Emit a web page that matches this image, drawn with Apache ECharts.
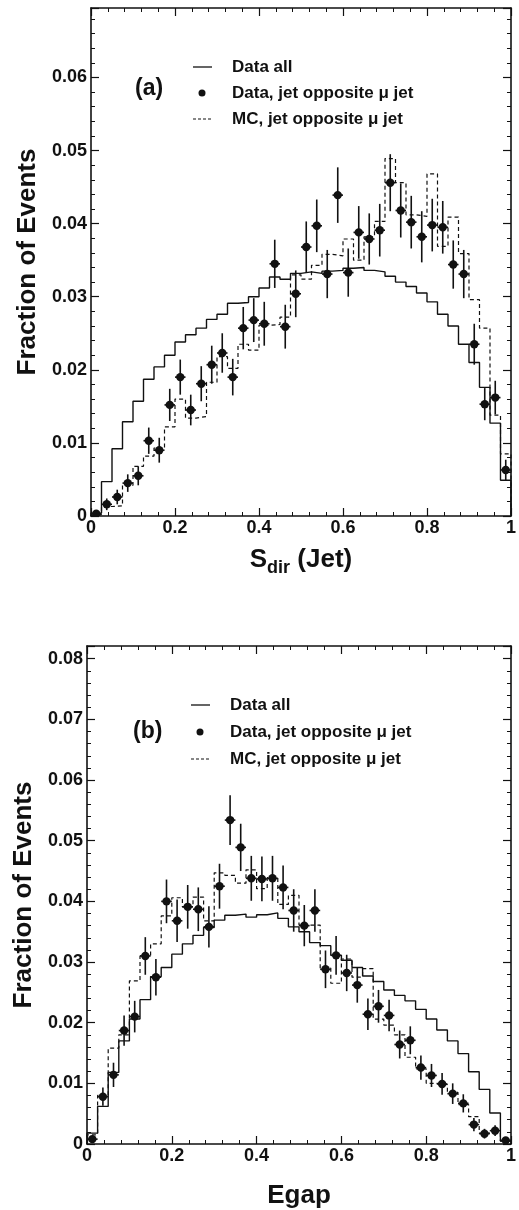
<!DOCTYPE html>
<html>
<head>
<meta charset="utf-8">
<script src="https://cdn.jsdelivr.net/npm/echarts@6/dist/echarts.min.js"></script>
<style>
html,body{margin:0;padding:0;background:#fff;}
#chart{width:519px;height:1210px;}
</style>
</head>
<body>
<div id="chart"></div>
<script>
// ---- data (40 bins of width 0.025 on [0,1]) ----
const nBins = 40;
const binWidth = 0.025;
const xTicks = [0, 0.2, 0.4, 0.6, 0.8, 1];
const yTicksTop = [0, 0.01, 0.02, 0.03, 0.04, 0.05, 0.06];
const yTicksBottom = [0, 0.01, 0.02, 0.03, 0.04, 0.05, 0.06, 0.07, 0.08];
const legendNames = ['Data all', 'Data, jet opposite \u03bc jet', 'MC, jet opposite \u03bc jet'];

// Panel (a): S_dir (Jet)
const topAll = [0.0004,0.0047,0.0092,0.0129,0.0157,0.0187,0.0204,0.0220,0.0238,0.0248,
                0.0257,0.0269,0.0276,0.0291,0.0292,0.0300,0.0312,0.0327,0.0324,0.0332,
                0.0334,0.0332,0.0335,0.0336,0.0339,0.0340,0.0336,0.0334,0.0328,0.0320,
                0.0314,0.0305,0.0293,0.0276,0.0260,0.0235,0.0210,0.0176,0.0127,0.0049];
const topMC  = [0.0002,0.0013,0.0014,0.0042,0.0068,0.0082,0.0093,0.0122,0.0160,0.0134,
                0.0136,0.0183,0.0218,0.0202,0.0235,0.0227,0.0261,0.0262,0.0272,0.0330,
                0.0324,0.0343,0.0358,0.0356,0.0379,0.0350,0.0382,0.0403,0.0489,0.0456,
                0.0412,0.0410,0.0468,0.0369,0.0409,0.0359,0.0296,0.0257,0.0138,0.0085];
const topData = [0.0003,0.0016,0.0026,0.0045,0.0055,0.0103,0.0090,0.0152,0.0190,0.0145,
                 0.0181,0.0207,0.0223,0.0190,0.0257,0.0268,0.0263,0.0345,0.0259,0.0304,
                 0.0368,0.0397,0.0331,0.0439,0.0333,0.0388,0.0379,0.0391,0.0456,0.0418,
                 0.0402,0.0382,0.0398,0.0395,0.0344,0.0331,0.0235,0.0153,0.0162,0.0063];
const topErr = [0.0003,0.0008,0.0010,0.0012,0.0013,0.0018,0.0017,0.0022,0.0024,0.0021,
                0.0024,0.0026,0.0027,0.0025,0.0029,0.0030,0.0030,0.0033,0.0030,0.0032,
                0.0035,0.0036,0.0033,0.0038,0.0033,0.0036,0.0035,0.0036,0.0039,0.0037,
                0.0036,0.0035,0.0036,0.0036,0.0033,0.0033,0.0028,0.0022,0.0023,0.0014];

// Panel (b): Egap
const botAll = [0.0018,0.0062,0.0118,0.0170,0.0206,0.0238,0.0276,0.0291,0.0313,0.0330,
                0.0344,0.0357,0.0369,0.0377,0.0379,0.0374,0.0378,0.0381,0.0372,0.0358,
                0.0350,0.0332,0.0327,0.0311,0.0303,0.0291,0.0277,0.0268,0.0254,0.0245,
                0.0236,0.0222,0.0206,0.0188,0.0170,0.0149,0.0119,0.0090,0.0051,0.0005];
const botMC  = [0.0015,0.0080,0.0158,0.0180,0.0269,0.0310,0.0330,0.0376,0.0406,0.0391,
                0.0407,0.0368,0.0447,0.0443,0.0430,0.0452,0.0421,0.0439,0.0395,0.0410,
                0.0361,0.0361,0.0290,0.0265,0.0305,0.0275,0.0289,0.0206,0.0196,0.0180,
                0.0143,0.0124,0.0100,0.0098,0.0085,0.0065,0.0045,0.0018,0.0018,0.0005];
const botData = [0.0008,0.0078,0.0114,0.0187,0.0210,0.0310,0.0275,0.0400,0.0368,0.0391,
                 0.0387,0.0358,0.0425,0.0534,0.0489,0.0438,0.0437,0.0438,0.0423,0.0385,
                 0.0360,0.0385,0.0288,0.0311,0.0282,0.0262,0.0214,0.0227,0.0212,0.0164,
                 0.0171,0.0126,0.0113,0.0099,0.0083,0.0067,0.0032,0.0017,0.0022,0.0006];
const botErr = [0.0005,0.0015,0.0020,0.0025,0.0026,0.0031,0.0030,0.0036,0.0035,0.0036,
                0.0036,0.0034,0.0037,0.0041,0.0039,0.0037,0.0037,0.0037,0.0036,0.0035,
                0.0034,0.0035,0.0031,0.0032,0.0030,0.0029,0.0026,0.0027,0.0026,0.0023,
                0.0023,0.0020,0.0019,0.0018,0.0017,0.0015,0.0011,0.0008,0.0009,0.0004];

// ---- helpers ----
const FONT = '"Liberation Sans", Arial, Helvetica, sans-serif';
const INK = '#111';

function stepData(vals) {
  const d = [[0, 0]];
  vals.forEach((v, i) => d.push([i * binWidth, v]));
  d.push([nBins * binWidth, vals[vals.length - 1]]);
  d.push([nBins * binWidth, 0]);
  return d;
}
function pointData(vals, errs) {
  return vals.map((v, i) => [(i + 0.5) * binWidth, v, errs[i]]);
}
function fmtNum(v) {
  if (Math.abs(v) < 1e-9) return '0';
  if (Math.abs(v - 1) < 1e-9) return '1';
  return String(+v.toFixed(2));
}
function xAxis(gi, pos, name, gap, nameRich) {
  return {
    type: 'value', gridIndex: gi, position: pos,
    min: xTicks[0], max: xTicks[xTicks.length - 1], interval: xTicks[1] - xTicks[0],
    axisLine: {show: true, onZero: false, lineStyle: {color: INK, width: 1.6}},
    axisTick: {show: true, inside: true, length: 8, lineStyle: {color: INK, width: 1.2}},
    minorTick: {show: true, splitNumber: 5, length: 4, lineStyle: {color: INK, width: 1}},
    splitLine: {show: false}, minorSplitLine: {show: false},
    axisLabel: {show: pos === 'bottom', formatter: fmtNum, color: INK, fontFamily: FONT,
                fontWeight: 'bold', fontSize: 18, margin: 3},
    name: name || '', nameLocation: 'middle', nameGap: gap || 40,
    nameTextStyle: nameRich ? {rich: nameRich, color: INK} :
      {fontFamily: FONT, fontWeight: 'bold', fontSize: 26, color: INK}
  };
}
function yAxis(gi, pos, ticks, maxv, name, gap) {
  return {
    type: 'value', gridIndex: gi, position: pos,
    min: ticks[0], max: maxv, interval: ticks[1] - ticks[0],
    axisLine: {show: true, onZero: false, lineStyle: {color: INK, width: 1.6}},
    axisTick: {show: true, inside: true, length: 8, lineStyle: {color: INK, width: 1.2}},
    minorTick: {show: true, splitNumber: 5, length: 4, lineStyle: {color: INK, width: 1}},
    splitLine: {show: false}, minorSplitLine: {show: false},
    axisLabel: {show: pos === 'left', formatter: fmtNum, color: INK, fontFamily: FONT,
                fontWeight: 'bold', fontSize: 18, margin: 4, showMaxLabel: false},
    name: name || '', nameLocation: 'middle', nameGap: gap || 45,
    nameTextStyle: {fontFamily: FONT, fontWeight: 'bold', fontSize: 26, color: INK}
  };
}
function stepSeries(vals, gi, dashed) {
  return {
    type: 'line', xAxisIndex: gi * 2, yAxisIndex: gi * 2, step: 'end',
    data: stepData(vals), showSymbol: false, symbol: 'none', silent: true, clip: true,
    lineStyle: {color: INK, width: dashed ? 1.2 : 1.4, type: dashed ? [4, 3] : 'solid'},
    z: dashed ? 3 : 2
  };
}
function pointSeries(vals, errs, gi) {
  return {
    type: 'custom', xAxisIndex: gi * 2, yAxisIndex: gi * 2, clip: true, z: 5,
    data: pointData(vals, errs),
    encode: {x: 0, y: 1},
    renderItem: function (params, api) {
      const xc = api.value(0), v = api.value(1), e = api.value(2);
      const lo = api.coord([xc, Math.max(0, v - e)]);
      const hi = api.coord([xc, v + e]);
      const l = api.coord([xc - binWidth / 2, v]);
      const r = api.coord([xc + binWidth / 2, v]);
      const c = api.coord([xc, v]);
      const st = {stroke: INK, lineWidth: 1.6};
      return {type: 'group', children: [
        {type: 'line', shape: {x1: lo[0], y1: lo[1], x2: hi[0], y2: hi[1]}, style: st},
        {type: 'line', shape: {x1: l[0], y1: l[1], x2: r[0], y2: r[1]}, style: st},
        {type: 'circle', shape: {cx: c[0], cy: c[1], r: 4.2}, style: {fill: INK}}
      ]};
    }
  };
}
function legendBlock(x0, y0, dy, tag, tagY) {
  const ts = {fontFamily: FONT, fontWeight: 'bold', fontSize: 17, fill: INK, verticalAlign: 'middle'};
  return [
    {type: 'text', x: x0 - 97, y: tagY,
     style: Object.assign({}, ts, {text: tag, fontSize: 23})},
    {type: 'line', shape: {x1: x0 - 39, y1: y0, x2: x0 - 20, y2: y0}, style: {stroke: INK, lineWidth: 1.3}},
    {type: 'text', x: x0, y: y0, style: Object.assign({}, ts, {text: legendNames[0]})},
    {type: 'circle', shape: {cx: x0 - 30, cy: y0 + dy, r: 3.5}, style: {fill: INK}},
    {type: 'text', x: x0, y: y0 + dy, style: Object.assign({}, ts, {text: legendNames[1]})},
    {type: 'line', shape: {x1: x0 - 39, y1: y0 + 2 * dy, x2: x0 - 19, y2: y0 + 2 * dy},
     style: {stroke: INK, lineWidth: 1.1, lineDash: [3, 2]}},
    {type: 'text', x: x0, y: y0 + 2 * dy, style: Object.assign({}, ts, {text: legendNames[2]})}
  ];
}

const sdirRich = {
  m: {fontFamily: FONT, fontWeight: 'bold', fontSize: 26, color: INK, verticalAlign: 'top', lineHeight: 30},
  s: {fontFamily: FONT, fontWeight: 'bold', fontSize: 18, color: INK, verticalAlign: 'bottom', lineHeight: 30, padding: [14, 0, 0, 0]}
};

const option = {
  animation: false,
  backgroundColor: '#fff',
  grid: [
    {left: 91, top: 8, width: 426, height: 508},
    {left: 87, top: 646, width: 426, height: 507}
  ],
  xAxis: [
    xAxis(0, 'bottom', '{m|S}{s|dir}{m| (Jet)}', 31, sdirRich),
    xAxis(0, 'top'),
    xAxis(1, 'bottom', 'Egap', 39),
    xAxis(1, 'top')
  ],
  yAxis: [
    yAxis(0, 'left', yTicksTop, 0.0695, 'Fraction of Events', 48),
    yAxis(0, 'right', yTicksTop, 0.0695),
    yAxis(1, 'left', yTicksBottom, 0.0821, 'Fraction of Events', 44),
    yAxis(1, 'right', yTicksBottom, 0.0821)
  ],
  series: [
    stepSeries(topAll, 0, false),
    stepSeries(topMC, 0, true),
    pointSeries(topData, topErr, 0),
    stepSeries(botAll, 1, false),
    stepSeries(botMC, 1, true),
    pointSeries(botData, botErr, 1)
  ],
  graphic: [].concat(legendBlock(232, 67, 26, '(a)', 89), legendBlock(230, 705, 27, '(b)', 732))
};

const chart = echarts.init(document.getElementById('chart'), null, {renderer: 'canvas'});
chart.setOption(option);
</script>
</body>
</html>
